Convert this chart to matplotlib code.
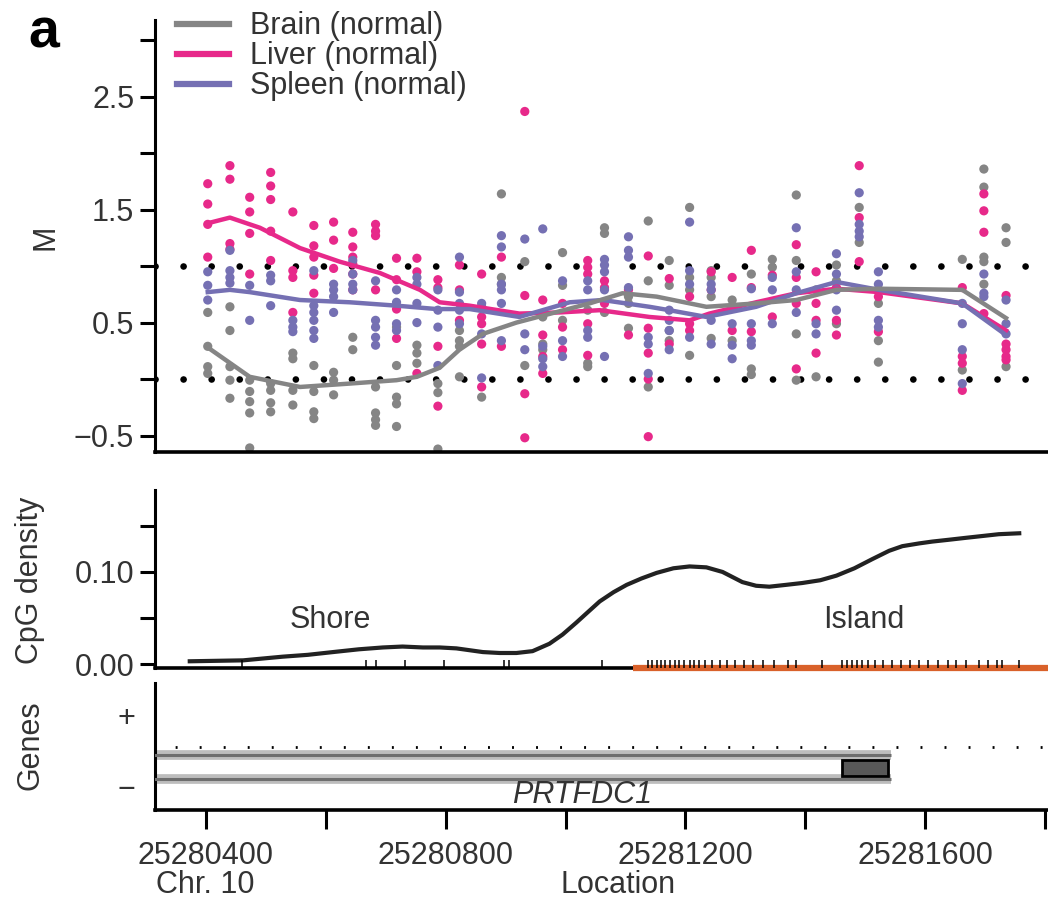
import numpy as np
import matplotlib.pyplot as plt
from matplotlib.patches import Rectangle

plt.rcParams['font.family'] = ['Liberation Sans', 'DejaVu Sans']

TXT = '#333333'
BRAIN_C = '#858585'
LIVER_C = '#E7298A'
SPLEEN_C = '#7570B3'
ISLAND_C = '#D9612A'

XMIN, XMAX = 25280315, 25281805

# CpG sites measured (bp)
sites = [25280403, 25280440, 25280473, 25280508, 25280545, 25280580, 25280613,
         25280645, 25280683, 25280718, 25280752, 25280787, 25280823, 25280860,
         25280893, 25280932, 25280962, 25280995, 25281037, 25281065, 25281105,
         25281138, 25281173, 25281207, 25281243, 25281278, 25281310, 25281345,
         25281385, 25281418, 25281452, 25281490, 25281522, 25281662, 25281698,
         25281735]

brain = [[0.59, 0.29, 0.11, 0.05], [0.64, 0.43, 0.11, -0.01, -0.17],
         [-0.01, -0.11, -0.2, -0.3, -0.61], [-0.04, -0.1, -0.21, -0.29],
         [0.23, 0.18, -0.1, -0.23], [0.12, -0.11, -0.29, -0.35],
         [0.06, -0.01, -0.14], [0.37, 0.26], [-0.07, -0.30, -0.36, -0.41],
         [0.46, 0.12, -0.16, -0.22, -0.42], [0.30, 0.23, 0.14],
         [-0.04, -0.12, -0.62], [0.43, 0.34, 0.29, 0.02], [0.64, -0.16],
         [1.64, 0.90, 0.84], [1.04, 0.12], [0.55, 0.31, 0.26], [1.12, 0.83, 0.52],
         [0.61, 0.14, 0.11], [1.34, 1.29, 0.59], [0.73, 0.67, 0.45],
         [1.40, 0.87, -0.07], [1.05, 0.83, 0.43, 0.34], [1.52, 0.90, 0.79, 0.21],
         [0.96, 0.90, 0.73, 0.36], [0.70, 0.34], [0.93, 0.09, 0.04], [1.06, 0.99],
         [1.63, 1.05, 0.40, -0.01], [0.79, 0.02], [1.01, 0.87, 0.49], [1.52, 1.21],
         [0.67, 0.34, 0.15], [1.06, 0.08], [1.86, 1.70, 1.08, 1.04, 0.84],
         [1.34, 1.21, 0.11]]

liver = [[1.73, 1.55, 1.37, 1.08], [1.89, 1.77, 1.20, 1.15], [1.61, 1.48, 1.29, 0.93],
         [1.83, 1.71, 1.59, 1.31, 1.05], [1.48, 0.96, 0.90, 0.59],
         [1.36, 1.18, 1.08, 0.92, 0.76], [1.39, 1.23, 0.98],
         [1.30, 1.17, 1.08, 1.02, 0.93, 0.79], [1.37, 1.31, 1.27, 0.79],
         [1.07, 0.88, 0.62, 0.36], [1.07, 0.95, 0.05], [0.88, 0.81, 0.29, -0.24],
         [1.01, 0.79, 0.52], [0.93, 0.55, 0.49, 0.31, -0.07], [1.08, 0.29],
         [2.37, 0.74, -0.13, -0.52], [0.70, 0.39, 0.20, 0.05], [0.67, 0.46, 0.26],
         [1.05, 0.99, 0.93, 0.49, 0.21], [0.87, 0.81, 0.67], [0.79, 0.39],
         [1.09, 0.45, 0.23, 0.0, -0.51], [0.89, 0.31], [0.73, 0.49, 0.43],
         [0.95, 0.79], [0.90, 0.43], [1.14, 0.81, 0.42], [0.92, 0.55],
         [1.19, 0.90, 0.67, 0.09], [0.95, 0.67, 0.52, 0.23], [0.81, 0.52, 0.39],
         [1.89, 1.43, 1.04], [0.79, 0.73, 0.42], [0.81, 0.20, 0.14, -0.10],
         [1.64, 1.49, 1.30, 0.58], [0.74, 0.31, 0.26, 0.20, 0.17]]

spleen = [[0.95, 0.83, 0.70], [1.14, 0.96, 0.90, 0.85], [0.83, 0.52],
          [0.92, 0.87, 0.65], [0.52, 0.46, 0.42], [0.96, 0.65, 0.59, 0.52, 0.43, 0.36],
          [0.84, 0.79, 0.73, 0.59], [1.05, 0.93, 0.84, 0.79],
          [0.87, 0.52, 0.46, 0.37, 0.30], [0.79, 0.68, 0.49, 0.43],
          [0.90, 0.84, 0.67, 0.50], [0.79, 0.61, 0.46, 0.12],
          [1.08, 0.77, 0.67, 0.61, 0.49], [0.67, 0.40, 0.01],
          [1.27, 1.17, 0.84, 0.79, 0.67, 0.34], [1.24, 0.40, 0.26],
          [1.33, 0.29, 0.18, 0.11], [0.87, 0.34, 0.20], [0.87, 0.79, 0.43, 0.37],
          [1.06, 1.01, 0.95, 0.79, 0.20], [1.26, 1.14, 1.08, 0.81], [0.37, 0.31, 0.05],
          [0.61, 0.52, 0.43, 0.26], [1.39, 0.96, 0.84, 0.37], [0.84, 0.79, 0.52, 0.31],
          [0.49, 0.30, 0.18], [0.80, 0.49, 0.34, 0.30], [0.90, 0.79, 0.49],
          [1.34, 0.95, 0.79, 0.59], [0.49, 0.40], [1.11, 0.93, 0.79, 0.61],
          [1.65, 1.37, 1.31, 1.26], [0.95, 0.84, 0.52, 0.46],
          [0.67, 0.49, 0.26, -0.04], [0.93, 0.76, 0.73], [0.70, 0.49, 0.40]]

# smoothed curves
liver_x = [25280403, 25280440, 25280490, 25280557, 25280623, 25280690, 25280757,
           25280790, 25280840, 25280923, 25280990, 25281057, 25281140, 25281207,
           25281240, 25281318, 25281385, 25281452, 25281523, 25281662, 25281735]
liver_y = [1.38, 1.43, 1.34, 1.16, 1.04, 0.94, 0.79, 0.68, 0.65, 0.58, 0.59, 0.61,
           0.55, 0.52, 0.58, 0.68, 0.76, 0.80, 0.77, 0.67, 0.43]
spleen_x = [25280403, 25280440, 25280473, 25280557, 25280640, 25280718, 25280785,
            25280840, 25280923, 25281007, 25281062, 25281140, 25281173, 25281235,
            25281318, 25281385, 25281452, 25281523, 25281662, 25281735]
spleen_y = [0.77, 0.79, 0.77, 0.70, 0.68, 0.65, 0.62, 0.62, 0.55, 0.68, 0.70, 0.64,
            0.61, 0.55, 0.64, 0.76, 0.86, 0.79, 0.67, 0.39]
brain_x = [25280403, 25280473, 25280557, 25280640, 25280718, 25280752, 25280790,
           25280823, 25280862, 25280918, 25281040, 25281095, 25281152, 25281235,
           25281318, 25281385, 25281452, 25281523, 25281662, 25281735]
brain_y = [0.28, 0.02, -0.07, -0.04, -0.01, 0.02, 0.10, 0.26, 0.40, 0.50, 0.67,
           0.76, 0.73, 0.64, 0.67, 0.70, 0.79, 0.80, 0.79, 0.54]

# CpG density
cpg_x = [25280373, 25280462, 25280528, 25280570, 25280612, 25280655, 25280695,
         25280728, 25280762, 25280790, 25280818, 25280840, 25280862, 25280890,
         25280918, 25280945, 25280973, 25280995, 25281018, 25281040, 25281057,
         25281080, 25281102, 25281127, 25281152, 25281180, 25281207, 25281235,
         25281262, 25281280, 25281295, 25281318, 25281340, 25281368, 25281395,
         25281425, 25281452, 25281482, 25281512, 25281540, 25281562, 25281590,
         25281612, 25281640, 25281667, 25281695, 25281723, 25281757]
cpg_y = [0.003, 0.004, 0.008, 0.010, 0.013, 0.016, 0.018, 0.019, 0.018, 0.018,
         0.017, 0.015, 0.013, 0.012, 0.012, 0.014, 0.022, 0.032, 0.045, 0.058,
         0.068, 0.078, 0.086, 0.093, 0.099, 0.104, 0.106, 0.105, 0.100, 0.094,
         0.089, 0.085, 0.084, 0.086, 0.088, 0.091, 0.096, 0.104, 0.114, 0.123,
         0.128, 0.131, 0.133, 0.135, 0.137, 0.139, 0.141, 0.142]
cpg_sites = [25280460, 25280667, 25280683, 25280732, 25280798, 25280898, 25280905,
             25281060, 25281137, 25281145, 25281152, 25281160, 25281166, 25281175,
             25281183, 25281190, 25281198, 25281207, 25281215, 25281222, 25281232,
             25281245, 25281258, 25281270, 25281283, 25281297, 25281312, 25281330,
             25281348, 25281372, 25281385, 25281428, 25281462, 25281470, 25281478,
             25281487, 25281495, 25281505, 25281517, 25281530, 25281545, 25281560,
             25281575, 25281590, 25281605, 25281622, 25281638, 25281652, 25281668,
             25281690, 25281705, 25281720, 25281728, 25281757]
island_start, island_end = 25281113, 25281805

# gene PRTFDC1 (minus strand)
gene_start, gene_end = 25280000, 25281543
cds_start, cds_end = 25281462, 25281538
gene_label_x = 25281028

xticks_major = [25280400, 25280800, 25281200, 25281600]
xticks_minor = [25280600, 25281000, 25281400, 25281800]

W, H = 1048, 901
fig = plt.figure(figsize=(W / 100, H / 100), dpi=100)


def px_axes(left, top, right, bottom):
    return fig.add_axes([left / W, 1 - bottom / H, (right - left) / W, (bottom - top) / H])


ax_m = px_axes(155, 20, 1048, 452)
ax_c = px_axes(155, 490, 1048, 668)
ax_g = px_axes(155, 683, 1048, 810)

for ax in (ax_m, ax_c, ax_g):
    ax.set_xlim(XMIN, XMAX)
    for s in ('top', 'right'):
        ax.spines[s].set_visible(False)
    ax.spines['left'].set_linewidth(2.2)
    ax.spines['bottom'].set_linewidth(2.6)
    ax.tick_params(axis='y', length=11, width=2.2, labelsize=22, labelcolor=TXT, pad=4)
    ax.set_facecolor('none')

# --- M panel
ax_m.set_ylim(-0.646, 3.18)
ax_m.set_yticks([-0.5, 0, 0.5, 1.0, 1.5, 2.0, 2.5, 3.0])
ax_m.set_yticklabels(['\u22120.5', '', '0.5', '', '1.5', '', '2.5', ''])
ax_m.tick_params(axis='x', bottom=False, labelbottom=False)
for yv in (0.0, 1.0):
    ax_m.axhline(yv, color='black', lw=4.8, linestyle=(0, (0.01, 4.2)),
                 dash_capstyle='round', zorder=1)

for vals_all, col in ((brain, BRAIN_C), (liver, LIVER_C), (spleen, SPLEEN_C)):
    for site, vals in zip(sites, vals_all):
        ax_m.scatter([site] * len(vals), vals, s=44, color=col, edgecolors='none', zorder=2)

l_liver, = ax_m.plot(liver_x, liver_y, color=LIVER_C, lw=3.2, zorder=3)
l_spleen, = ax_m.plot(spleen_x, spleen_y, color=SPLEEN_C, lw=3.2, zorder=3)
l_brain, = ax_m.plot(brain_x, brain_y, color=BRAIN_C, lw=3.2, zorder=3)
leg = ax_m.legend([l_brain, l_liver, l_spleen],
                  ['Brain (normal)', 'Liver (normal)', 'Spleen (normal)'],
                  loc='upper left', bbox_to_anchor=(22 / 893, 1.02), frameon=False,
                  fontsize=22, labelspacing=0.0, handlelength=1.7, handletextpad=0.7,
                  borderpad=0, borderaxespad=0)
for t in leg.get_texts():
    t.set_color(TXT)
for h in leg.legend_handles:
    h.set_linewidth(4.5)

# --- CpG density panel
ax_c.set_ylim(-0.0043, 0.189)
ax_c.set_yticks([0, 0.05, 0.10, 0.15])
ax_c.set_yticklabels(['0.00', '', '0.10', ''])
ax_c.tick_params(axis='x', bottom=False, labelbottom=False)
ax_c.plot(cpg_x, cpg_y, color='#222222', lw=3, solid_joinstyle='round')
ax_c.plot([island_start, island_end], [0, 0], transform=ax_c.get_xaxis_transform(),
          color=ISLAND_C, lw=4.5, solid_capstyle='butt', clip_on=False, zorder=5)
ax_c.vlines(cpg_sites, 0.0, 0.045, transform=ax_c.get_xaxis_transform(),
            color='black', lw=1.1, zorder=6)
ax_c.text(25280607, 0.048, 'Shore', ha='center', va='center', fontsize=22, color=TXT)
ax_c.text(25281498, 0.048, 'Island', ha='center', va='center', fontsize=22, color=TXT)

# --- Genes panel
ax_g.set_ylim(-1.64, 1.89)
ax_g.set_yticks([1, -1])
ax_g.set_yticklabels(['+', '\u2212'])
ax_g.tick_params(axis='y', length=0, pad=14)
ax_g.axhline(0.11, color='black', lw=2, linestyle=(1.4, (0.7, 7.95)), zorder=1)
for yv in (-0.11, -0.78):
    ax_g.plot([gene_start, gene_end], [yv, yv], color='#BDBDBD', lw=7,
              solid_capstyle='butt', zorder=2)
    ax_g.plot([gene_start, gene_end], [yv, yv], color='#6E6E6E', lw=2.2,
              solid_capstyle='butt', zorder=3)
ax_g.add_patch(Rectangle((cds_start, -0.70), cds_end - cds_start, 0.46,
                         facecolor='#585858', edgecolor='black', lw=2, zorder=4))
ax_g.text(gene_label_x, -1.22, 'PRTFDC1', ha='center', va='center',
          fontsize=22, style='italic', color=TXT)
ax_g.set_xticks(xticks_major)
ax_g.set_xticklabels([str(v) for v in xticks_major])
ax_g.set_xticks(xticks_minor, minor=True)
ax_g.tick_params(axis='x', which='both', length=14, width=2.2, labelsize=22,
                 labelcolor=TXT, pad=8)

# labels
fig.text(45 / W, 1 - 237 / H, 'M', rotation=90, ha='center', va='center',
         fontsize=22, color=TXT)
fig.text(30 / W, 1 - 580 / H, 'CpG density', rotation=90, ha='center', va='center',
         fontsize=22, color=TXT)
fig.text(30 / W, 1 - 745 / H, 'Genes', rotation=90, ha='center', va='center',
         fontsize=22, color=TXT)
fig.text(205 / W, 1 - 885 / H, 'Chr. 10', ha='center', va='center', fontsize=22, color=TXT)
fig.text(618 / W, 1 - 885 / H, 'Location', ha='center', va='center', fontsize=22, color=TXT)
fig.text(28 / W, 1 - 8 / H, 'a', ha='left', va='top', fontsize=40, fontweight='bold')

fig.savefig('out.png', dpi=100)
